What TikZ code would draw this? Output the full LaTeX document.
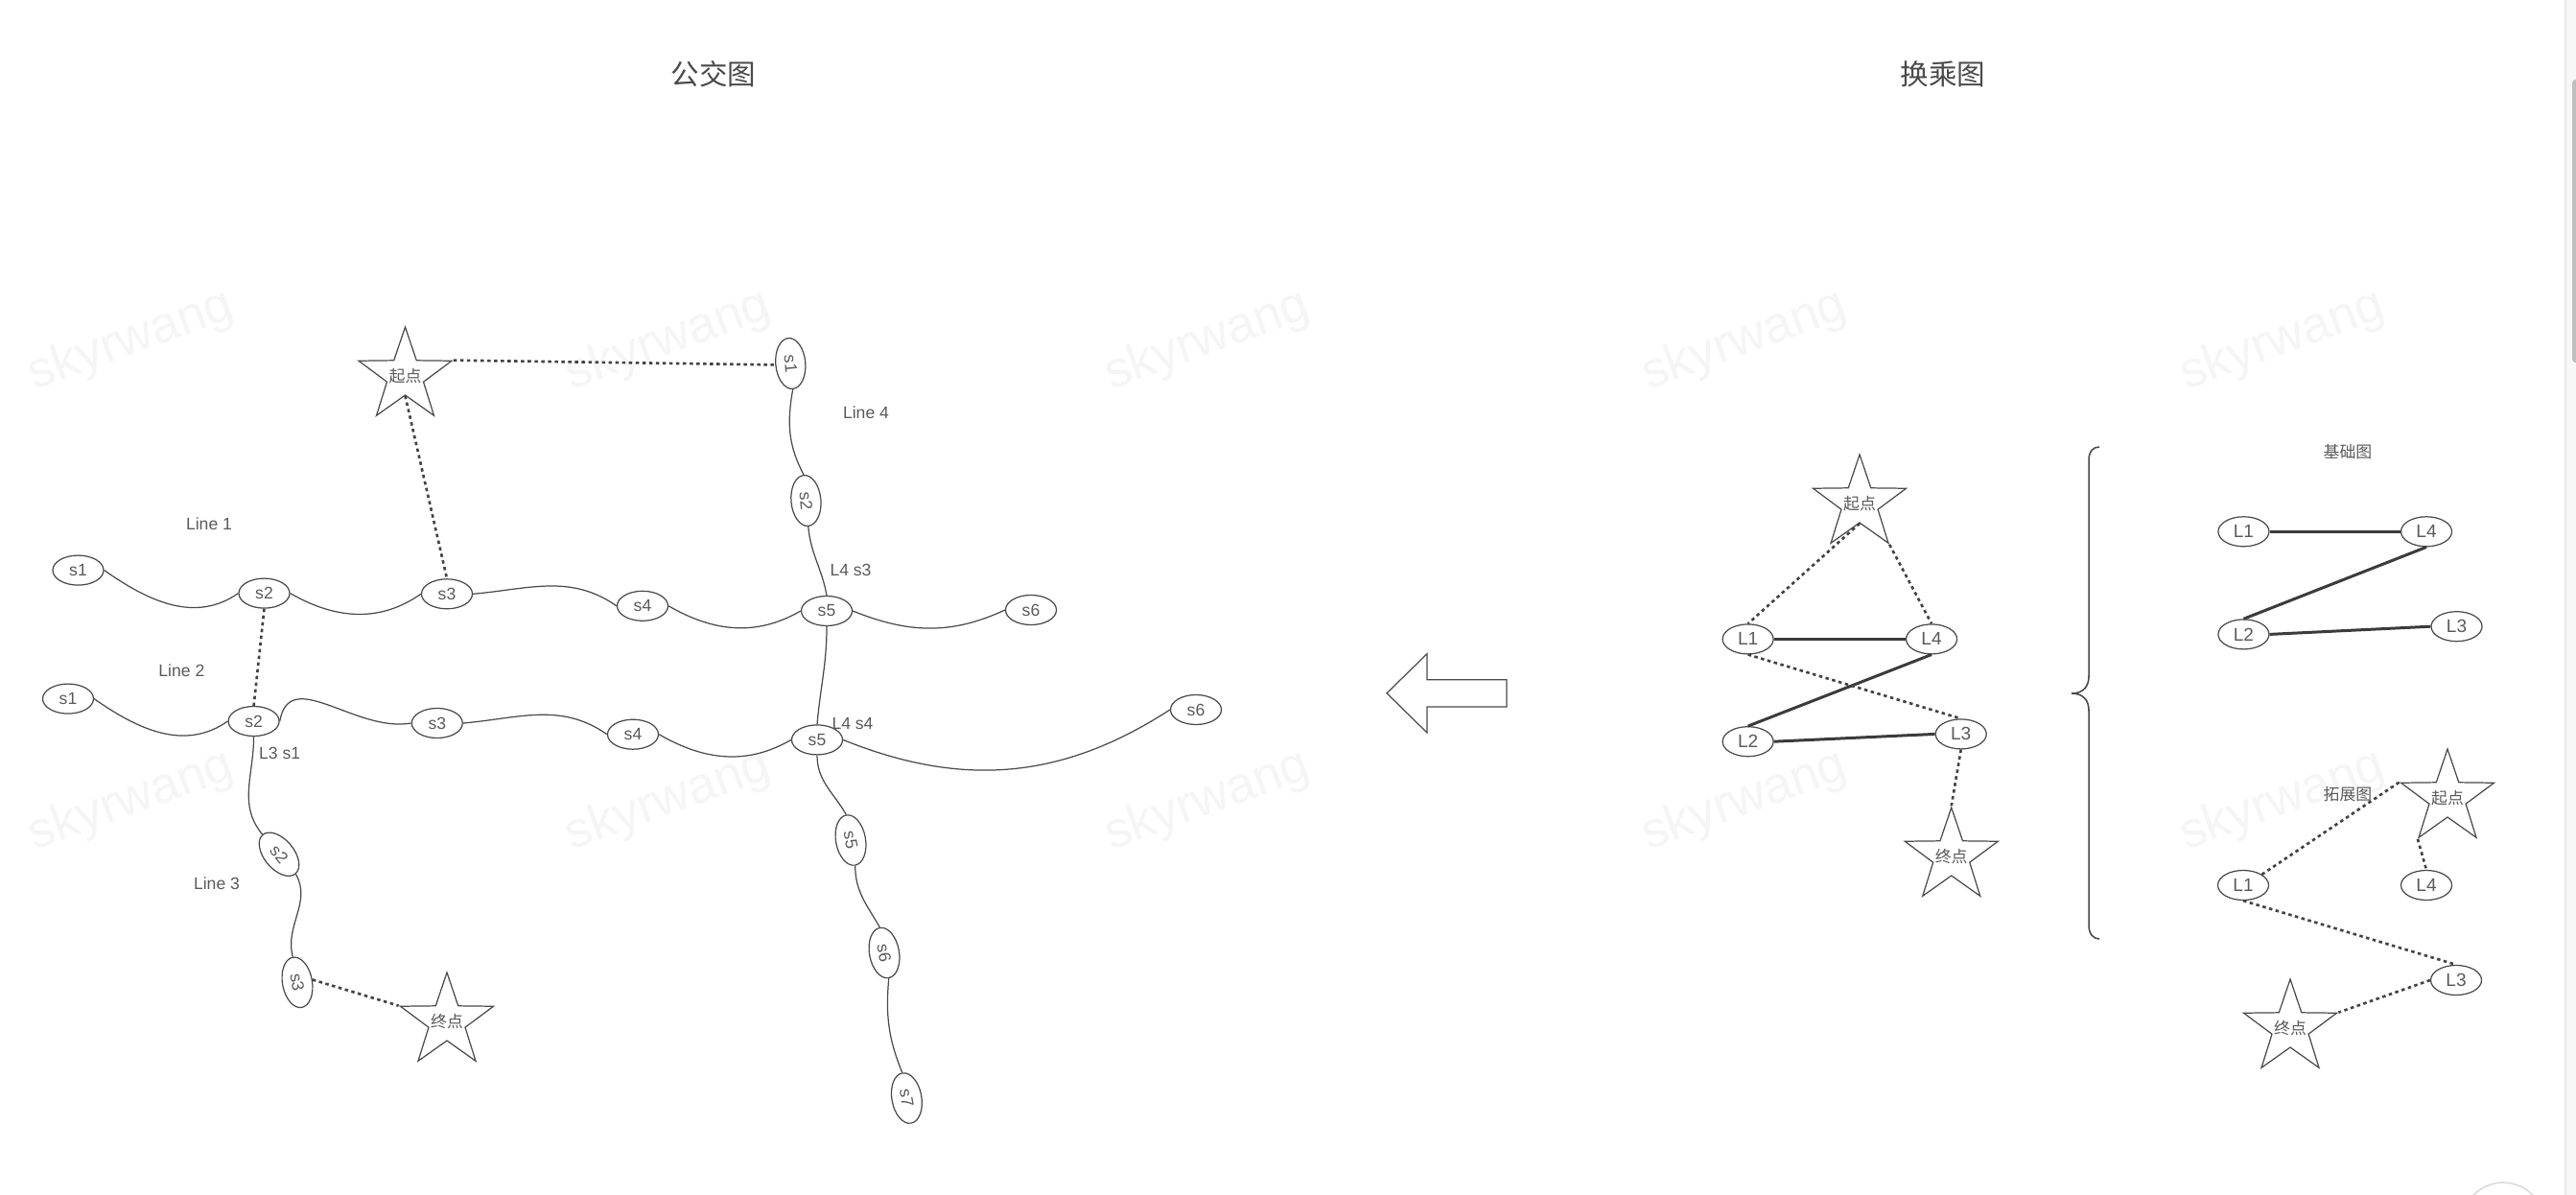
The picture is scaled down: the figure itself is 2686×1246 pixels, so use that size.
\documentclass[tikz,border=0pt]{standalone}
\usepackage{xcolor}
\usepackage{fontspec}
\usetikzlibrary{shapes.geometric}
\setmainfont{Liberation Sans}
\newfontfamily\cjk{Noto Sans CJK SC}
\definecolor{InkGrey}{HTML}{4A4A4A}
\definecolor{LabelGrey}{HTML}{5A5A5A}
\definecolor{MarkGrey}{HTML}{F5F5F5}
\newcommand{\starlabel}[1]{\smash{\makebox[0pt]{\raisebox{-0.38em}{#1}}}}
\tikzset{
  stopnode/.style={ellipse, draw=InkGrey, line width=0.35pt, inner sep=0pt,
    minimum width=0.53cm, minimum height=0.31cm, text=LabelGrey, font=\fontsize{5}{6}\selectfont},
  linenode/.style={stopnode, font=\fontsize{5.4}{6}\selectfont},
  endstar/.style={star, star points=5, star point ratio=2.55, draw=InkGrey, line width=0.35pt,
    inner sep=0pt, minimum size=1.02cm, text=LabelGrey, font=\cjk\fontsize{4.8}{6}\selectfont},
  caption/.style={inner sep=0pt, text=LabelGrey, font=\fontsize{5}{6}\selectfont},
  smallcn/.style={inner sep=0pt, text=LabelGrey, font=\cjk\fontsize{4.8}{6}\selectfont},
  bigcn/.style={inner sep=0pt, text=InkGrey, font=\cjk\fontsize{8.4}{10}\selectfont},
  track/.style={draw=InkGrey, line width=0.35pt},
  transfer/.style={draw=InkGrey!90!black, line width=0.75pt, dash pattern=on 1pt off 1pt},
  busline/.style={draw=InkGrey!80!black, line width=0.85pt},
}

\begin{document}
\begin{tikzpicture}[x=0.01cm, y=0.01cm]
  \clip (0,0) rectangle (2686,-1246);
  \fill[white] (0,0) rectangle (2686,-1246);

  % watermark
  \foreach \mx in {137,697,1259,1819,2380}
    \foreach \my in {-356,-836}
      \node[rotate=20, text=MarkGrey, font=\fontsize{15}{16}\selectfont] at (\mx,\my) {skyrwang};

  % page furniture at the edge
  \fill[black!3] (2675,0) rectangle (2686,-1246);
  \draw[black!9, line width=0.4pt] (2675,0) -- (2675,-1246);
  \fill[black!25, rounded corners=1pt] (2682,-83) rectangle (2690,-378);
  \draw[black!14, line width=0.45pt] (2610,-1276) circle (43);

  % titles
  \node[bigcn] (titlebus) at (744,-77) {公交图};
  \node[bigcn] (titleline) at (2026,-77) {换乘图};

  % bus map, line 1
  \node[stopnode] (aOne) at (81.5,-594.6) {s1};
  \node[stopnode] (aTwo) at (275.5,-618.6) {s2};
  \node[stopnode] (aThree) at (466,-619.3) {s3};
  \node[stopnode] (aFour) at (670,-631.8) {s4};
  \node[stopnode] (aFive) at (862,-637) {s5};
  \node[stopnode] (aSix) at (1075,-636) {s6};
  % line 2
  \node[stopnode] (bOne) at (71,-728.6) {s1};
  \node[stopnode] (bTwo) at (264.6,-752) {s2};
  \node[stopnode] (bThree) at (455.8,-754) {s3};
  \node[stopnode] (bFour) at (660,-765.7) {s4};
  \node[stopnode] (bFive) at (852,-771.4) {s5};
  \node[stopnode] (bSix) at (1247,-740) {s6};
  % line 3
  \node[stopnode, rotate=-50] (cTwo) at (291,-890.7) {s2};
  \node[stopnode, rotate=-80] (cThree) at (310,-1024.3) {s3};
  % line 4
  \node[stopnode, rotate=-85] (dOne) at (824.3,-379) {s1};
  \node[stopnode, rotate=-85] (dTwo) at (840.4,-522) {s2};
  \node[stopnode, rotate=-80] (dFive) at (887,-876) {s5};
  \node[stopnode, rotate=-80] (dSix) at (922,-993.5) {s6};
  \node[stopnode, rotate=-80] (dSeven) at (945.4,-1145) {s7};

  \node[endstar] (busStart) at (422.5,-392) {\starlabel{起点}};
  \node[endstar] (busEnd) at (466,-1065) {\starlabel{终点}};

  \node[caption] (capOne) at (218,-546) {Line 1};
  \node[caption] (capTwo) at (189.4,-699) {Line 2};
  \node[caption] (capThree) at (226,-921.7) {Line 3};
  \node[caption] (capFour) at (903,-430) {Line 4};
  \node[caption] (capLfs) at (887,-594.6) {L4 s3};
  \node[caption] (capLff) at (889,-754.5) {L4 s4};
  \node[caption] (capLts) at (291.6,-785) {L3 s1};

  \draw[track] (aOne.east) to[out=-35,in=215] (aTwo.west);
  \draw[track] (aTwo.east) to[out=-30,in=215] (aThree.west);
  \draw[track] (aThree.east) to[out=5,in=145] (aFour.west);
  \draw[track] (aFour.east) to[out=-30,in=210] (aFive.west);
  \draw[track] (aFive.east) to[out=-22,in=205] (aSix.west);
  \draw[track] (bOne.east) to[out=-35,in=215] (bTwo.west);
  \draw[track] (bTwo.east) to[out=80,in=190,looseness=1.1] (bThree.west);
  \draw[track] (bThree.east) to[out=5,in=145] (bFour.west);
  \draw[track] (bFour.east) to[out=-30,in=210] (bFive.west);
  \draw[track] (bFive.east) to[out=-22,in=213] (bSix.west);
  \draw[track] (bTwo.south) to[out=-90,in=130] (cTwo.west);
  \draw[track] (cTwo.east) to[out=-60,in=105] (cThree.west);
  \draw[track] (dOne.east) to[out=-100,in=118] (dTwo.west);
  \draw[track] (dTwo.east) to[out=-85,in=100] (aFive.north);
  \draw[track] (aFive.south) to[out=-90,in=85] (bFive.north);
  \draw[track] (bFive.south) to[out=-90,in=120] (dFive.west);
  \draw[track] (dFive.east) to[out=-90,in=120] (dSix.west);
  \draw[track] (dSix.east) to[out=-95,in=112] (dSeven.west);

  \draw[transfer] (busStart.outer point 5) -- (dOne.south);
  \draw[transfer] (busStart.inner point 3) -- (aThree.north);
  \draw[transfer] (aTwo.south) -- (bTwo.north);
  \draw[transfer] (cThree.north) -- (busEnd.outer point 2);

  % hollow arrow
  \draw[track] (1446,-722.8) -- (1488,-681.6) -- (1488,-708.8) -- (1571,-708.8)
    -- (1571,-737) -- (1488,-737) -- (1488,-764) -- cycle;

  % transfer map
  \node[linenode] (tOne) at (1822.6,-666.4) {L1};
  \node[linenode] (tFour) at (2014,-666.4) {L4};
  \node[linenode] (tTwo) at (1822.6,-773.2) {L2};
  \node[linenode] (tThree) at (2044.7,-765.4) {L3};
  \node[endstar] (tStart) at (1939,-525) {\starlabel{起点}};
  \node[endstar] (tEnd) at (2034.7,-893) {\starlabel{终点}};

  \draw[busline] (tOne) -- (tFour);
  \draw[busline] (tFour.south) -- (tTwo.north);
  \draw[busline] (tTwo.east) -- (tThree.west);
  \draw[transfer] (tStart.inner point 3) -- (tOne.north);
  \draw[transfer] (tStart.outer point 4) -- (tFour.north);
  \draw[transfer] (tOne.south) -- (tThree.north);
  \draw[transfer] (tThree.south) -- (tEnd.outer point 1);

  % brace
  \draw[track, line width=0.45pt] (2189,-466) .. controls (2183,-466) and (2178,-470) .. (2178,-480) -- (2178,-705)
    .. controls (2178,-716) and (2172,-723) .. (2160,-723)
    .. controls (2172,-723) and (2178,-730) .. (2178,-741) -- (2178,-965)
    .. controls (2178,-974) and (2183,-979) .. (2189,-979);

  % base graph
  \node[smallcn] (capBase) at (2448,-471.4) {基础图};
  \node[linenode] (uOne) at (2339.4,-554.3) {L1};
  \node[linenode] (uFour) at (2530,-554.3) {L4};
  \node[linenode] (uTwo) at (2339.4,-661.4) {L2};
  \node[linenode] (uThree) at (2561.5,-653.2) {L3};
  \draw[busline] (uOne) -- (uFour);
  \draw[busline] (uFour.south) -- (uTwo.north);
  \draw[busline] (uTwo.east) -- (uThree.west);

  % extended graph
  \node[smallcn] (capExt) at (2448,-828) {拓展图};
  \node[linenode] (vOne) at (2339,-923) {L1};
  \node[linenode] (vFour) at (2530,-923) {L4};
  \node[linenode] (vThree) at (2561,-1022) {L3};
  \node[endstar] (vStart) at (2552,-832) {\starlabel{起点}};
  \node[endstar] (vEnd) at (2388,-1072) {\starlabel{终点}};
  \draw[transfer] (vOne.30) -- (vStart.outer point 2);
  \draw[transfer] (vStart.outer point 3) -- (vFour.north);
  \draw[transfer] (vOne.south) -- (vThree.north);
  \draw[transfer] (vThree.west) -- (vEnd.outer point 5);
\end{tikzpicture}
\end{document}
